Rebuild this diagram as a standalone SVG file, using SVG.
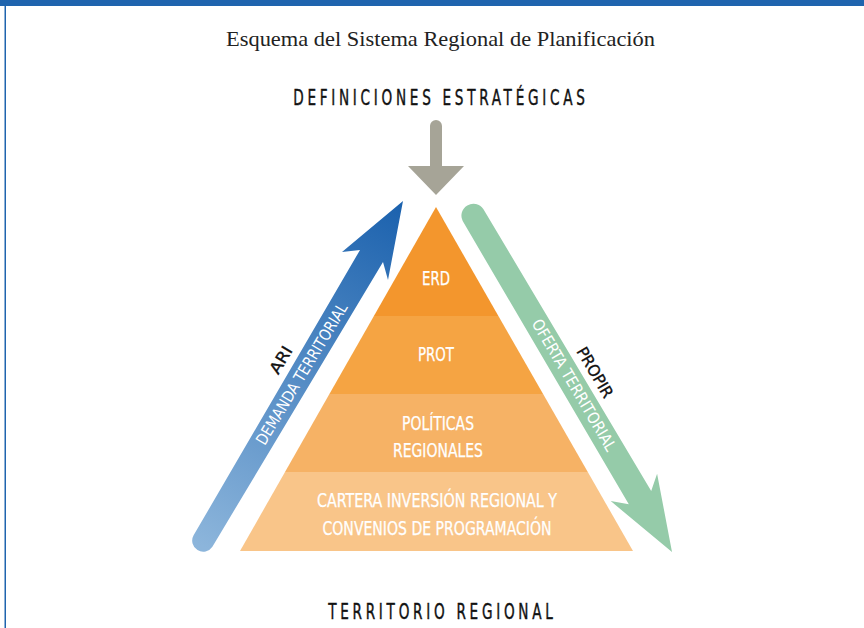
<svg xmlns="http://www.w3.org/2000/svg" width="864" height="628" viewBox="0 0 864 628">
<defs>
<linearGradient id="gBlue" gradientUnits="userSpaceOnUse" x1="400" y1="205" x2="200" y2="545">
<stop offset="0" stop-color="#1C62AE"/>
<stop offset="1" stop-color="#8CB5DB"/>
</linearGradient>
<style>
.cond{font-family:"Liberation Sans Narrow","DejaVu Sans Condensed","Roboto",sans-serif;font-stretch:condensed;}
.lbl{fill:#ffffff;font-size:19px;text-anchor:middle;stroke:#ffffff;stroke-width:0.25px;}
.cap{fill:#111111;font-size:21px;text-anchor:middle;stroke:#111111;stroke-width:0.4px;}
.arr{font-size:16px;text-anchor:middle;dominant-baseline:central;}
.w{fill:#ffffff;}
.k{fill:#111111;stroke:#111111;stroke-width:0.3px;}
</style>
</defs>
<rect x="0" y="0" width="864" height="628" fill="#ffffff"/>
<rect x="0" y="0" width="864" height="6" fill="#1F64AE"/>
<rect x="4.5" y="0" width="1.5" height="628" fill="#1F64AE"/>

<g id="header">
<text x="440.5" y="46" text-anchor="middle" font-family="Liberation Serif, serif" font-size="21" fill="#222222" textLength="429" lengthAdjust="spacingAndGlyphs">Esquema del Sistema Regional de Planificación</text>
</g>
<g id="definiciones">
<text class="cond cap" transform="translate(439,105) scale(0.72,1)" x="0" y="0" textLength="405" lengthAdjust="spacing">DEFINICIONES ESTRATÉGICAS</text>
</g>
<g id="territorio">
<text class="cond cap" transform="translate(440.5,619) scale(0.72,1)" x="0" y="0" font-size="22" textLength="312" lengthAdjust="spacing">TERRITORIO REGIONAL</text>
</g>

<g id="erd">
<polygon points="436,207 498.4,316 373.9,316" fill="#F3962D"/>
<text class="cond lbl" x="436" y="285" textLength="28" lengthAdjust="spacingAndGlyphs">ERD</text>
</g>
<g id="prot">
<polygon points="373.9,316 498.4,316 543.1,394 329.4,394" fill="#F5A443"/>
<text class="cond lbl" x="436" y="360.5" textLength="36" lengthAdjust="spacingAndGlyphs">PROT</text>
</g>
<g id="politicas">
<polygon points="329.4,394 543.1,394 587.8,472 285,472" fill="#F6B265"/>
<text class="cond lbl" x="438" y="430" textLength="72" lengthAdjust="spacingAndGlyphs">POLÍTICAS</text>
<text class="cond lbl" x="438" y="457" textLength="90" lengthAdjust="spacingAndGlyphs">REGIONALES</text>
</g>
<g id="cartera">
<polygon points="285,472 587.8,472 633,551 240,551" fill="#F9C589"/>
<text class="cond lbl" x="437" y="506.5" textLength="240" lengthAdjust="spacingAndGlyphs">CARTERA INVERSIÓN REGIONAL Y</text>
<text class="cond lbl" x="437" y="535" textLength="229" lengthAdjust="spacingAndGlyphs">CONVENIOS DE PROGRAMACIÓN</text>
</g>

<g id="connectors">
<path id="arrow-definiciones" d="M430,126 A6,6 0 0 1 442,126 L442,166 L464,166 L436,195 L408,166 L430,166 Z" fill="#A6A497"/>
<g id="arrow-ari">
<path d="M360,250 L342,252 L403,201 L388,280 L383,262 L212.4,546.7 A11,11 0 0 1 193.6,535.3 Z" fill="url(#gBlue)"/>
<text class="cond arr w" transform="translate(301.7,374) rotate(-59)" textLength="162" lengthAdjust="spacingAndGlyphs">DEMANDA TERRITORIAL</text>
<text class="cond arr k" transform="translate(281,360) rotate(-59)" textLength="29" lengthAdjust="spacingAndGlyphs">ARI</text>
</g>
<g id="arrow-propir">
<path d="M628.8,504.3 L610.7,501.1 L672,552 L657.1,473.7 L651.2,491.1 L483.3,208.9 A12,12 0 0 0 462.7,221.1 Z" fill="#95CBA9"/>
<text class="cond arr w" transform="translate(574,385) rotate(59.5)" textLength="150" lengthAdjust="spacingAndGlyphs">OFERTA TERRITORIAL</text>
<text class="cond arr k" transform="translate(595,372.5) rotate(59.5)" textLength="56" lengthAdjust="spacingAndGlyphs">PROPIR</text>
</g>
</g>
</svg>
